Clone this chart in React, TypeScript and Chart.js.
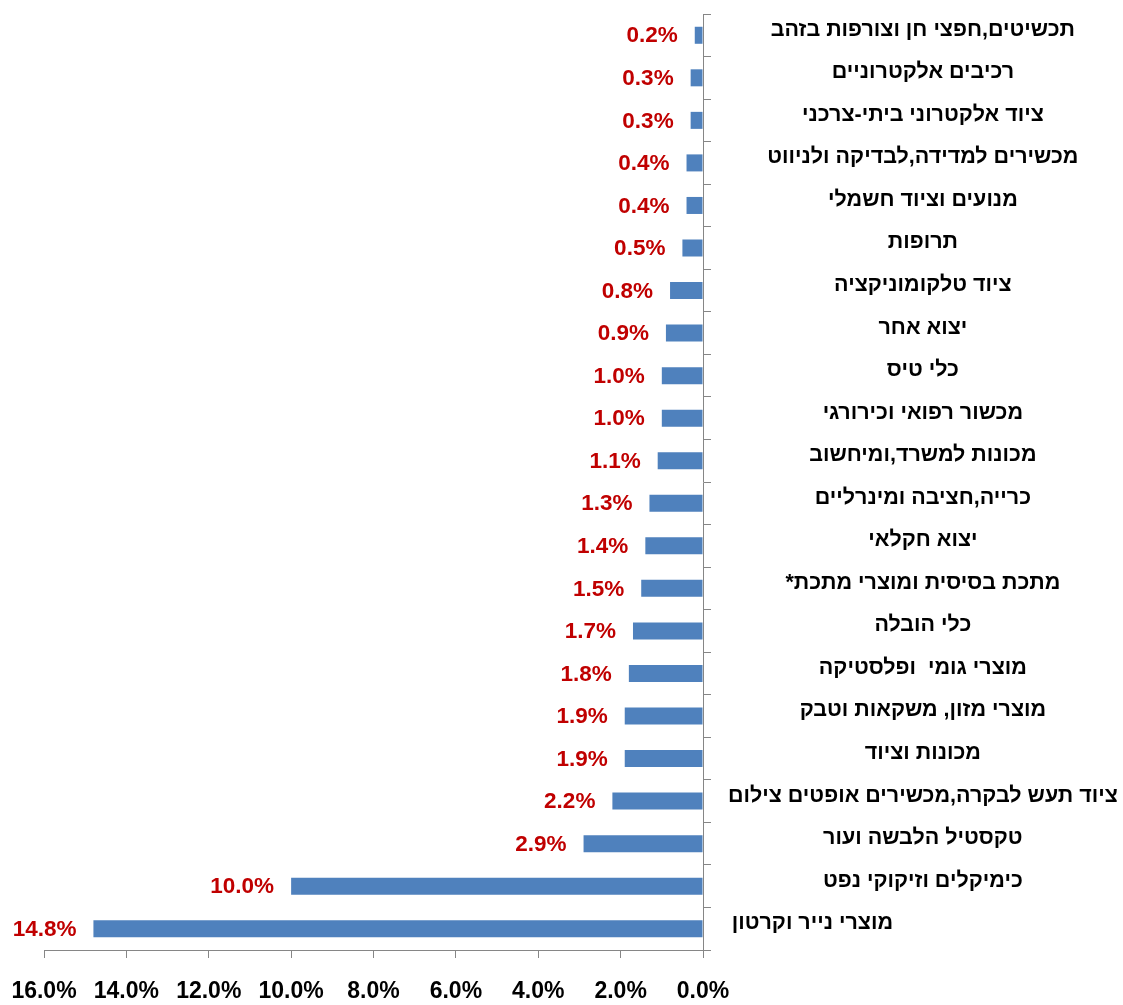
import React, { useEffect, useRef } from 'react';
import { Chart, registerables } from 'chart.js';

Chart.register(...registerables);

// Categories, top to bottom
const categories: string[] = [
  'תכשיטים,חפצי חן וצורפות בזהב',
  'רכיבים אלקטרוניים',
  'ציוד אלקטרוני ביתי-צרכני',
  'מכשירים למדידה,לבדיקה ולניווט',
  'מנועים וציוד חשמלי',
  'תרופות',
  'ציוד טלקומוניקציה',
  'יצוא אחר',
  'כלי טיס',
  'מכשור רפואי וכירורגי',
  'מכונות למשרד,ומיחשוב',
  'כרייה,חציבה ומינרליים',
  'יצוא חקלאי',
  'מתכת בסיסית ומוצרי מתכת*',
  'כלי הובלה',
  'מוצרי גומי  ופלסטיקה',
  'מוצרי מזון, משקאות וטבק',
  'מכונות וציוד',
  'ציוד תעש לבקרה,מכשירים אופטים צילום',
  'טקסטיל הלבשה ועור',
  'כימיקלים וזיקוקי נפט',
  'מוצרי נייר וקרטון',
];

// Share of exports, percent
const values: number[] = [
  0.2, 0.3, 0.3, 0.4, 0.4, 0.5, 0.8, 0.9, 1.0, 1.0, 1.1,
  1.3, 1.4, 1.5, 1.7, 1.8, 1.9, 1.9, 2.2, 2.9, 10.0, 14.8,
];

// X axis range (percent)
const xMin = 0;
const xMax = 16;
const xStep = 2;

// Label that sits left-aligned in the original
const leftAlignedLabels: string[] = ['מוצרי נייר וקרטון'];

const FONT = "'Liberation Sans', Arial, 'DejaVu Sans', sans-serif";
const CAT_FONT_SIZE = 21.5;
// A second, empty label line lifts the category text a little above the bar centre
const CAT_LINE_HEIGHT_PX = 11;

export default function App() {
  const ref = useRef<HTMLCanvasElement>(null);

  useEffect(() => {
    const canvas = ref.current;
    if (!canvas) return;

    const m = document.createElement('canvas').getContext('2d')!;
    m.font = `bold ${CAT_FONT_SIZE}px ${FONT}`;
    const widest = Math.max(...categories.map((c) => m.measureText(c + '\u200F').width));
    const spaceW = m.measureText(' ').width;
    const tickLabels = categories.map((c) => {
      let s = c + '\u200F';
      if (leftAlignedLabels.includes(c)) {
        const n = Math.max(0, Math.floor((widest - m.measureText(s).width) / spaceW) - 1);
        s = s + ' '.repeat(n);
      }
      return [s, ''];
    });

    const valueLabels = {
      id: 'valueLabels',
      afterDatasetsDraw(chart: any) {
        const ctx = chart.ctx as CanvasRenderingContext2D;
        const meta = chart.getDatasetMeta(0);
        ctx.save();
        ctx.font = `bold 22.5px ${FONT}`;
        ctx.fillStyle = '#C00000';
        ctx.textAlign = 'right';
        ctx.textBaseline = 'middle';
        meta.data.forEach((bar: any, i: number) => {
          ctx.fillText(values[i].toFixed(1) + '%', bar.x - 17, bar.y + 1);
        });
        ctx.restore();
      },
    };

    const chart = new Chart(canvas, {
      type: 'bar',
      data: {
        labels: tickLabels,
        datasets: [
          {
            data: values,
            backgroundColor: '#4F81BD',
            borderWidth: 0,
            barPercentage: 0.4,
            categoryPercentage: 1,
          },
        ],
      },
      options: {
        indexAxis: 'y',
        animation: false,
        responsive: true,
        maintainAspectRatio: false,
        layout: { padding: { top: 14, left: 44, right: 0, bottom: 0 } },
        plugins: {
          legend: { display: false },
          tooltip: { enabled: false },
        },
        scales: {
          x: {
            type: 'linear',
            min: xMin,
            max: xMax,
            reverse: true,
            afterFit: (s: any) => {
              s.height = 55;
              s.paddingLeft = 0;
              s.paddingRight = 0;
            },
            ticks: {
              stepSize: xStep,
              callback: (v: any) => Number(v).toFixed(1) + '%',
              font: { family: FONT, size: 23, weight: 'bold' },
              color: '#000000',
              padding: 20,
              maxRotation: 0,
              autoSkip: false,
            },
            grid: {
              drawOnChartArea: false,
              drawTicks: true,
              tickLength: 8,
              color: '#868686',
            },
            border: { color: '#868686', width: 1 },
          },
          y: {
            type: 'category',
            position: 'right',
            offset: true,
            afterFit: (s: any) => {
              s.width = 420;
              s.paddingTop = 0;
              s.paddingBottom = 0;
            },
            ticks: {
              font: {
                family: FONT,
                size: CAT_FONT_SIZE,
                weight: 'bold',
                lineHeight: CAT_LINE_HEIGHT_PX / CAT_FONT_SIZE,
              },
              color: '#000000',
              padding: 17,
              crossAlign: 'center',
              autoSkip: false,
            },
            grid: {
              offset: true,
              drawOnChartArea: false,
              drawTicks: true,
              tickLength: 8,
              color: '#868686',
            },
            border: { color: '#868686', width: 1 },
          },
        },
      },
      plugins: [valueLabels],
    } as any);

    return () => chart.destroy();
  }, []);

  return (
    <div style={{ position: 'absolute', left: 0, top: 0, width: 1123, height: 1005, background: '#ffffff' }}>
      <canvas ref={ref} />
    </div>
  );
}
